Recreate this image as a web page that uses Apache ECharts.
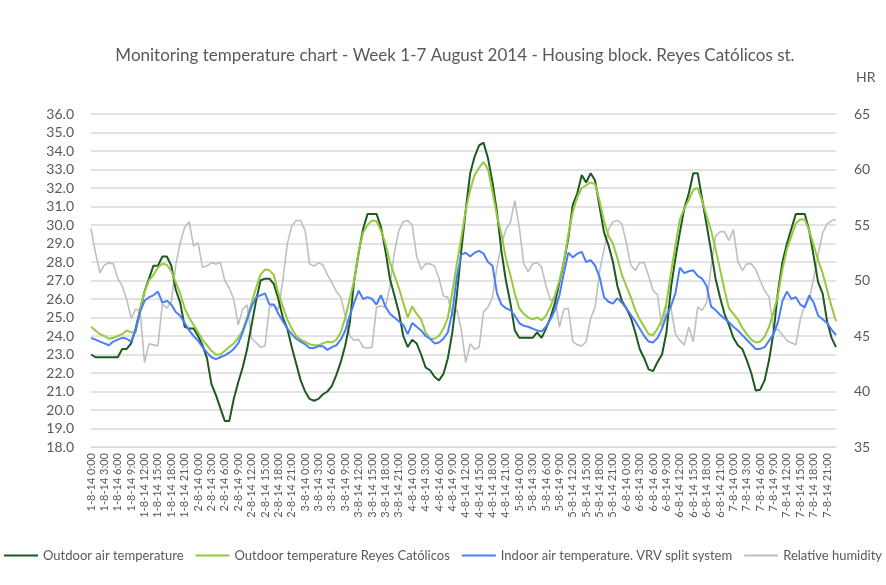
<!DOCTYPE html>
<html>
<head>
<meta charset="utf-8">
<script src="https://cdn.jsdelivr.net/npm/echarts@6/dist/echarts.min.js"></script>
<style>
  html, body { margin: 0; padding: 0; background: #fff; }
  #chart { width: 886px; height: 585px; }
</style>
</head>
<body>
<div id="chart"></div>
<script>
// Categories: hourly readings, 1-7 August 2014
const days = ["1-8-14", "2-8-14", "3-8-14", "4-8-14", "5-8-14", "6-8-14", "7-8-14"];
const hours = [];
for (let h = 0; h < 24; h++) hours.push(h + ":00");
const categories = [];
days.forEach((d) => hours.forEach((h) => categories.push(d + " " + h)));

// Outdoor air temperature (dark green)
const outdoorAir = [
  23.0, 22.85, 22.85, 22.85, 22.85, 22.85, 22.85, 23.3, 23.3, 23.6, 24.4, 25.4, 26.4, 27.1, 27.8, 27.8, 28.3, 28.3, 27.8, 26.5, 25.8, 24.5, 24.4, 24.4,
  24.0, 23.5, 22.8, 21.4, 20.8, 20.1, 19.4, 19.4, 20.6, 21.5, 22.3, 23.3, 24.6, 25.9, 27.0, 27.1, 27.1, 26.8, 26.0, 25.0, 24.4, 23.4, 22.5, 21.6,
  21.0, 20.6, 20.5, 20.6, 20.85, 21.0, 21.3, 21.9, 22.6, 23.5, 24.7, 27.0, 28.5, 29.8, 30.6, 30.6, 30.6, 29.9, 28.6, 27.1, 26.2, 25.3, 24.0, 23.4,
  23.8, 23.6, 23.0, 22.3, 22.15, 21.8, 21.6, 21.95, 22.8, 24.2, 26.2, 28.6, 30.8, 32.8, 33.7, 34.3, 34.45, 33.6, 32.3, 30.7, 28.6, 27.0, 25.8, 24.3,
  23.9, 23.9, 23.9, 23.9, 24.2, 23.9, 24.4, 25.0, 25.8, 26.9, 28.0, 29.3, 31.1, 31.7, 32.7, 32.3, 32.8, 32.4, 31.0, 29.6, 28.9, 28.0, 26.7, 25.9,
  25.5, 25.0, 24.2, 23.3, 22.8, 22.2, 22.1, 22.6, 23.0, 24.2, 26.6, 28.2, 29.6, 30.9, 31.7, 32.8, 32.8, 31.4, 30.0, 28.6, 27.1, 26.1, 25.2, 24.6,
  23.9, 23.5, 23.3, 22.7, 22.0, 21.05, 21.1, 21.6, 22.7, 24.2, 26.4, 28.0, 29.0, 29.8, 30.6, 30.6, 30.6, 29.7, 28.3, 26.9, 26.3, 24.8, 23.9, 23.4
];

// Outdoor temperature Reyes Católicos (light green)
const outdoorReyes = [
  24.5, 24.3, 24.1, 24.0, 23.85, 23.9, 24.0, 24.1, 24.3, 24.2, 24.2, 25.4, 26.4, 27.0, 27.3, 27.7, 27.9, 27.85, 27.5, 26.9, 26.3, 25.5, 25.0, 24.6,
  24.2, 23.8, 23.5, 23.2, 23.0, 23.0, 23.2, 23.4, 23.6, 23.9, 24.3, 25.0, 25.8, 26.6, 27.3, 27.6, 27.55, 27.3, 26.3, 25.6, 24.9, 24.4, 24.0, 23.8,
  23.7, 23.55, 23.5, 23.5, 23.6, 23.7, 23.65, 23.8, 24.2, 25.0, 26.0, 27.0, 28.6, 29.6, 30.0, 30.25, 30.2, 29.7, 29.0, 28.0, 27.3, 26.6, 25.8, 25.0,
  25.6, 25.2, 24.9, 24.2, 23.85, 23.85, 24.0, 24.4, 25.0, 26.4, 27.9, 29.3, 30.8, 31.9, 32.7, 33.1, 33.4, 33.0, 31.8, 30.5, 29.5, 28.2, 27.3, 26.3,
  25.5, 25.2, 25.0, 24.9, 25.0, 24.85, 25.1, 25.6, 26.2, 27.0, 28.0, 29.5, 30.7, 31.5, 32.0, 32.15, 32.3, 32.2, 31.3, 30.2, 29.4, 29.0, 28.2, 27.3,
  26.7, 26.1, 25.4, 24.9, 24.5, 24.1, 24.05, 24.4, 24.9, 25.8, 27.4, 28.9, 30.3, 30.9, 31.35, 31.9, 32.0, 31.3, 30.5, 29.7, 28.7, 27.6, 26.5, 25.5,
  25.2, 24.9, 24.45, 24.1, 23.8, 23.65, 23.7, 23.95, 24.5, 25.3, 26.2, 27.6, 28.7, 29.4, 30.1, 30.3, 30.3, 29.7, 28.9, 28.1, 27.4, 26.5, 25.6, 24.8
];

// Indoor air temperature, VRV split system (blue)
const indoorVRV = [
  23.9, 23.8, 23.7, 23.6, 23.5, 23.7, 23.8, 23.9, 23.85, 23.7, 24.3, 25.3, 25.9, 26.1, 26.2, 26.4, 25.8, 25.9, 25.7, 25.3, 25.1, 24.7, 24.3, 24.0,
  23.75, 23.4, 23.1, 22.85, 22.75, 22.85, 22.95, 23.1, 23.3, 23.6, 24.2, 24.9, 25.6, 26.1, 26.2, 26.3, 25.7, 25.7, 25.2, 24.8, 24.4, 24.1, 23.85, 23.7,
  23.55, 23.35, 23.35, 23.45, 23.45, 23.25, 23.4, 23.5, 23.8, 24.3, 25.1, 25.8, 26.45, 26.0, 26.1, 26.0, 25.7, 26.2, 25.6, 25.2, 25.0, 24.8, 24.6, 24.1,
  24.7, 24.5, 24.3, 24.0, 23.85, 23.6, 23.65, 23.85, 24.2, 25.3, 27.2, 28.4, 28.5, 28.3, 28.5, 28.6, 28.45, 28.0, 27.8, 26.3, 25.7, 25.5, 25.4, 25.1,
  24.7, 24.55, 24.5, 24.4, 24.3, 24.25, 24.5, 24.9, 25.4, 26.2, 27.4, 28.5, 28.25, 28.45, 28.55, 28.0, 28.1, 27.8, 27.2, 26.1, 25.85, 25.75, 26.05, 25.8,
  25.5, 25.15, 24.8, 24.4, 24.0, 23.7, 23.65, 23.9, 24.4, 25.1, 25.6, 26.3, 27.7, 27.4, 27.5, 27.55, 27.25, 27.1, 26.7, 25.6, 25.4, 25.15, 24.95, 24.75,
  24.5, 24.3, 24.05, 23.8, 23.55, 23.3, 23.3, 23.4, 23.75, 24.1, 24.75, 25.9, 26.4, 26.0, 26.1, 25.7, 25.55, 26.2, 25.8, 25.1, 24.9, 24.7, 24.35, 24.05
];

// Relative humidity, right axis (grey)
const humidity = [
  54.7, 52.5, 50.7, 51.4, 51.6, 51.5, 50.2, 49.5, 48.3, 46.6, 47.4, 47.3, 42.6, 44.3, 44.2, 44.1, 47.9, 47.5, 48.1, 51.4, 53.4, 54.8, 55.3, 53.1,
  53.4, 51.2, 51.3, 51.6, 51.5, 51.6, 50.0, 49.3, 48.3, 46.0, 47.4, 47.8, 44.8, 44.4, 44.0, 44.1, 47.6, 47.8, 47.4, 50.0, 53.3, 54.9, 55.4, 55.4,
  54.5, 51.5, 51.3, 51.6, 51.4, 50.5, 49.8, 49.0, 48.5, 46.8, 45.0, 44.6, 44.7, 44.0, 43.9, 44.0, 47.6, 47.7, 47.6, 49.5, 52.5, 54.5, 55.3, 55.4,
  55.0, 52.2, 51.0, 51.5, 51.5, 51.3, 50.2, 48.6, 48.5, 46.8, 47.4, 45.6, 42.6, 44.3, 43.8, 44.0, 47.2, 47.6, 48.5, 51.2, 53.2, 54.6, 55.2, 57.2,
  54.8, 51.5, 50.8, 51.5, 51.6, 51.2, 49.5, 48.2, 48.5, 45.8, 47.4, 47.5, 44.5, 44.2, 44.1, 44.5, 46.6, 47.6, 50.8, 52.8, 54.6, 55.3, 55.4, 55.1,
  53.4, 51.4, 50.9, 51.6, 51.6, 50.4, 49.1, 48.7, 45.7, 47.6, 47.5, 45.2, 44.6, 44.2, 45.8, 44.5, 47.6, 47.3, 48.0, 51.2, 54.0, 54.4, 54.4, 53.6,
  54.6, 51.7, 50.9, 51.5, 51.5, 51.0, 50.0, 49.1, 48.5, 45.5, 45.6, 45.1, 44.6, 44.4, 44.2, 46.5, 47.8, 48.3, 50.2, 52.3, 54.3, 55.1, 55.4, 55.5
];

const COLORS = {
  outdoor: "#1d5a20",
  reyes: "#97c93d",
  indoor: "#4a7ef6",
  humidity: "#bfbfbf",
};

const FONT = "Lato, 'Open Sans', sans-serif";
const TEXT = "#595959";

const chart = echarts.init(document.getElementById("chart"), null, { renderer: "canvas" });

const lineSeries = (name, data, color, yAxisIndex, width, z) => ({
  name,
  type: "line",
  data,
  yAxisIndex,
  showSymbol: false,
  symbol: "none",
  smooth: false,
  lineStyle: { color, width },
  itemStyle: { color },
  z,
  animation: false,
});

chart.setOption({
  animation: false,
  textStyle: { fontFamily: FONT },
  title: {
    text: "Monitoring temperature chart - Week 1-7 August 2014 - Housing block. Reyes Católicos st.",
    left: 450,
    textAlign: "center",
    top: 42,
    textStyle: { fontSize: 17, fontWeight: "normal", color: TEXT, fontFamily: FONT },
  },
  legend: {
    top: 549,
    left: "center",
    padding: 0,
    icon: "rect",
    itemWidth: 34,
    itemHeight: 2,
    itemGap: 12,
    textStyle: { fontSize: 13, color: TEXT, fontFamily: FONT },
    data: [
      "Outdoor air temperature",
      "Outdoor temperature Reyes Católicos",
      "Indoor air temperature. VRV split system",
      "Relative humidity",
    ],
  },
  grid: { left: 91, right: 50, top: 114, height: 333, containLabel: false },
  xAxis: {
    type: "category",
    data: categories,
    boundaryGap: false,
    axisLine: { lineStyle: { color: "#d9d9d9", width: 1 } },
    axisTick: { show: false },
    axisLabel: {
      interval: 2,
      rotate: 90,
      fontSize: 11,
      color: TEXT,
      margin: 6,
      fontFamily: FONT,
    },
    splitLine: { show: false },
  },
  yAxis: [
    {
      type: "value",
      min: 18,
      max: 36,
      interval: 1,
      axisLine: { show: false },
      axisTick: { show: false },
      axisLabel: {
        fontSize: 14,
        color: TEXT,
        margin: 17,
        fontFamily: FONT,
        formatter: (v) => v.toFixed(1),
      },
      splitLine: { lineStyle: { color: "#d9d9d9", width: 1.5 } },
    },
    {
      type: "value",
      min: 35,
      max: 65,
      interval: 5,
      position: "right",
      name: "HR",
      nameLocation: "end",
      nameGap: 30,
      nameTextStyle: { fontSize: 14, color: TEXT, align: "left", padding: [0, 0, 0, 20], fontFamily: FONT },
      axisLine: { show: false },
      axisTick: { show: false },
      axisLabel: { fontSize: 14, color: TEXT, margin: 18, fontFamily: FONT },
      splitLine: { show: false },
    },
  ],
  series: [
    lineSeries("Relative humidity", humidity, COLORS.humidity, 1, 1.6, 1),
    lineSeries("Outdoor air temperature", outdoorAir, COLORS.outdoor, 0, 2, 2),
    lineSeries("Outdoor temperature Reyes Católicos", outdoorReyes, COLORS.reyes, 0, 2, 3),
    lineSeries("Indoor air temperature. VRV split system", indoorVRV, COLORS.indoor, 0, 2, 4),
  ],
});
</script>
</body>
</html>
